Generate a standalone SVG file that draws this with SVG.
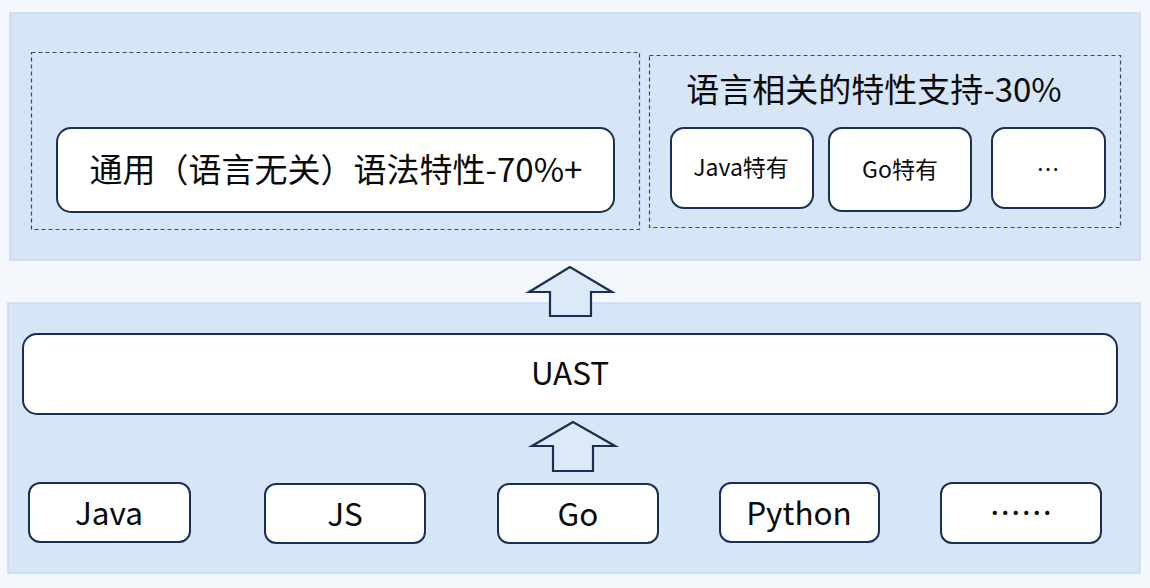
<svg xmlns="http://www.w3.org/2000/svg" width="1150" height="588" viewBox="0 0 1150 588">
<style>
.panel{fill:#d6e6f6;stroke:#c3daf1;stroke-width:1.5}
.dash{fill:none;stroke:#3a4a66;stroke-width:1.2;stroke-dasharray:4 3}
.box{fill:#ffffff;stroke:#1b2f55;stroke-width:2}
.arrow{fill:#dce9f6;stroke:#1b2f55;stroke-width:2.2;stroke-linejoin:miter}
text{font-family:"Noto Sans CJK SC","Noto Sans",sans-serif;fill:#0a0a0a;text-anchor:middle;font-weight:400}
.t33{font-size:33px}
.t31{font-size:31.5px}
.t23{font-size:23px}
</style>
<rect width="1150" height="588" fill="#f4f8fd"/>
<g id="top-panel">
<rect class="panel" x="10" y="13" width="1130" height="247"/>
<rect class="dash" x="31.5" y="52.5" width="608" height="177"/>
<rect class="dash" x="649.5" y="55.5" width="471" height="172"/>
</g>
<g id="general">
<rect class="box" x="57" y="128" width="557" height="84" rx="14"/>
<text class="t33" x="336" y="182">通用（语言无关）语法特性-70%+</text>
</g>
<g id="lang-title">
<text class="t33" x="874" y="102">语言相关的特性支持-30%</text>
</g>
<g id="java-specific">
<rect class="box" x="671" y="128" width="142" height="80" rx="13"/>
<text class="t23" x="741" y="176">Java特有</text>
</g>
<g id="go-specific">
<rect class="box" x="829" y="128" width="142" height="83" rx="13"/>
<text class="t23" x="900" y="178">Go特有</text>
</g>
<g id="more-specific">
<rect class="box" x="992" y="128" width="113" height="80" rx="13"/>
<text class="t23" x="1048" y="178">…</text>
</g>
<g id="bottom-panel">
<rect class="panel" x="8" y="303" width="1132" height="270"/>
</g>
<g id="uast">
<rect class="box" x="23" y="334" width="1094" height="80" rx="14"/>
<text class="t31" x="570" y="385">UAST</text>
</g>
<g id="java">
<rect class="box" x="29" y="483" width="161" height="59" rx="11"/>
<text class="t31" x="109" y="525">Java</text>
</g>
<g id="js">
<rect class="box" x="265" y="484" width="160" height="59" rx="11"/>
<text class="t31" x="345" y="526">JS</text>
</g>
<g id="go">
<rect class="box" x="498" y="484" width="160" height="59" rx="11"/>
<text class="t31" x="578" y="526">Go</text>
</g>
<g id="python">
<rect class="box" x="720" y="483" width="159" height="59" rx="11"/>
<text class="t31" x="799" y="525">Python</text>
</g>
<g id="more">
<rect class="box" x="941" y="483" width="160" height="60" rx="11"/>
<text class="t31" x="1021" y="525">……</text>
</g>
<g id="connectors">
<polygon class="arrow" points="570,267 529,292 550,292 550,316 591,316 591,292 612,292"/>
<polygon class="arrow" points="573,422 532,446 553,446 553,471 593,471 593,446 615,446"/>
</g>
</svg>
